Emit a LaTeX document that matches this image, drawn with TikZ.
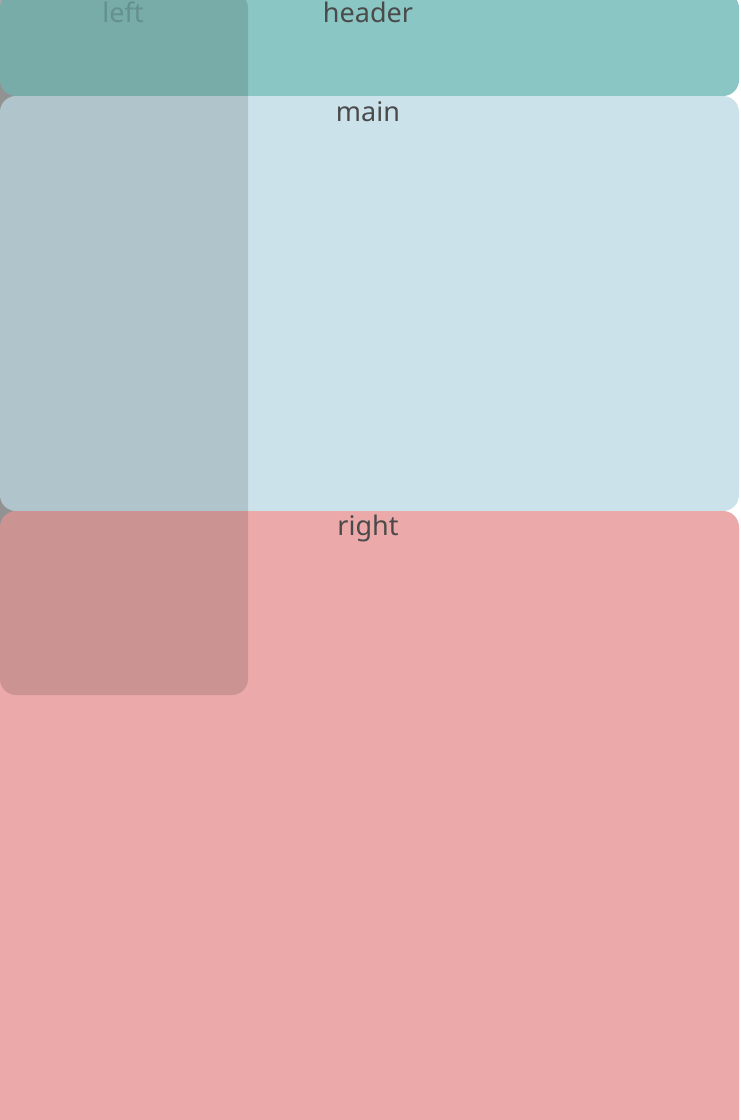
\documentclass[tikz,border=0pt]{standalone}
\usepackage{fontspec}
\setmainfont{Noto Sans}
\definecolor{boxHead}{RGB}{138,198,195}
\definecolor{boxMain}{RGB}{203,226,234}
\definecolor{boxRight}{RGB}{235,169,169}
\definecolor{boxGap}{RGB}{168,168,168}
\definecolor{labelText}{RGB}{74,74,74}
\begin{document}
\begin{tikzpicture}[x=1pt,y=-1pt,
  area/.style={rounded corners=16pt},
  lbl/.style={font=\fontsize{27}{30}\selectfont,text=labelText,anchor=base,inner sep=0pt}]
\useasboundingbox (0,0) rectangle (740,1120);
\begin{scope}
\clip (0,0) rectangle (740,1120);
\fill[boxGap] (0,0) rectangle (248,695);
\fill[boxHead,area] (0,-8) rectangle (739,96);
\fill[boxMain,area] (0,96) rectangle (739,511);
\fill[boxRight,area] (0,511) rectangle (739,1140);
\node[lbl] (header) at (368,22) {header};
\node[lbl] (main) at (368,121) {main};
\node[lbl] (right) at (368,535) {right};
% left column sits on top, half see-through
\fill[black,opacity=0.13,area] (0,-8) rectangle (248,695);
\node[lbl,text=black,text opacity=0.16] (left) at (123,22) {left};
\end{scope}
\end{tikzpicture}
\end{document}
